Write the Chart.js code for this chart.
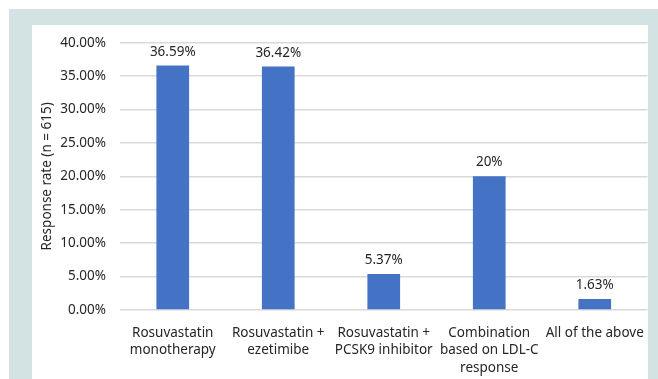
<!DOCTYPE html>
<html>
<head>
<meta charset="utf-8">
<script src="https://cdn.jsdelivr.net/npm/chart.js@4"></script>
<style>
  html, body { margin: 0; padding: 0; background: #ffffff; }
  body { width: 658px; height: 379px; overflow: hidden; position: relative; }
  .panel { position: absolute; left: 9px; top: 9px; width: 649px; height: 370px; background: #d3e3e3; }
  .card { position: absolute; left: 32px; top: 25px; width: 616px; height: 354px; background: #ffffff; }
  canvas { display: block; }
</style>
</head>
<body>
<div class="panel"></div>
<div class="card"><canvas id="chart" width="616" height="354"></canvas></div>
<script>
// Treatment strategy categories (multi-line axis labels)
const categories = [
  ['Rosuvastatin', 'monotherapy'],
  ['Rosuvastatin +', 'ezetimibe'],
  ['Rosuvastatin +', 'PCSK9 inhibitor'],
  ['Combination', 'based on LDL-C', 'response'],
  ['All of the above']
];
// Response rate in percent
const responseRates = [36.59, 36.42, 5.37, 20, 1.63];
// Value labels printed above the bars
const valueLabels = ['36.59%', '36.42%', '5.37%', '20%', '1.63%'];
// Y-axis ticks
const yTicks = [0, 5, 10, 15, 20, 25, 30, 35, 40];

const FONT = '"Noto Sans", "Open Sans", sans-serif';
const FONT_SIZE = 13.5;

// Draws each bar's value just above it
const barValueLabels = {
  id: 'barValueLabels',
  afterDatasetsDraw(chart) {
    const ctx = chart.ctx;
    const meta = chart.getDatasetMeta(0);
    ctx.save();
    ctx.font = FONT_SIZE + 'px ' + FONT;
    ctx.fillStyle = '#262626';
    ctx.textAlign = 'center';
    ctx.textBaseline = 'bottom';
    meta.data.forEach((bar, i) => {
      ctx.fillText(valueLabels[i], bar.x, bar.y - 7);
    });
    ctx.restore();
  }
};

new Chart(document.getElementById('chart'), {
  type: 'bar',
  data: {
    labels: categories,
    datasets: [{
      data: responseRates,
      backgroundColor: '#4472c4',
      borderWidth: 0,
      barPercentage: 0.62,
      categoryPercentage: 0.5
    }]
  },
  options: {
    responsive: false,
    animation: false,
    layout: { padding: { top: 17.7, right: 0.5, left: 0, bottom: 0 } },
    plugins: {
      legend: { display: false },
      tooltip: { enabled: false }
    },
    scales: {
      x: {
        grid: { display: false },
        border: { display: false },
        ticks: {
          color: '#262626',
          font: { family: FONT, size: FONT_SIZE, lineHeight: 1.3 },
          padding: 6,
          maxRotation: 0,
          autoSkip: false
        },
        afterFit(scale) {
          scale.height = 69;
          scale.paddingLeft = 0;
          scale.paddingRight = 0;
        }
      },
      y: {
        min: 0,
        max: 40,
        afterBuildTicks(scale) { scale.ticks = yTicks.map(v => ({ value: v })); },
        grid: { color: '#d9d9d9', lineWidth: 1.5, drawTicks: false },
        border: { display: false },
        ticks: {
          color: '#262626',
          font: { family: FONT, size: FONT_SIZE },
          padding: 14,
          callback: v => v.toFixed(2) + '%'
        },
        title: {
          display: true,
          text: 'Response rate (n = 615)',
          color: '#262626',
          font: { family: FONT, size: FONT_SIZE },
          padding: { top: 7, bottom: 0 }
        },
        afterFit(scale) {
          scale.width = 88;
          scale.paddingTop = 0;
          scale.paddingBottom = 0;
        }
      }
    }
  },
  plugins: [barValueLabels]
});
</script>
</body>
</html>
